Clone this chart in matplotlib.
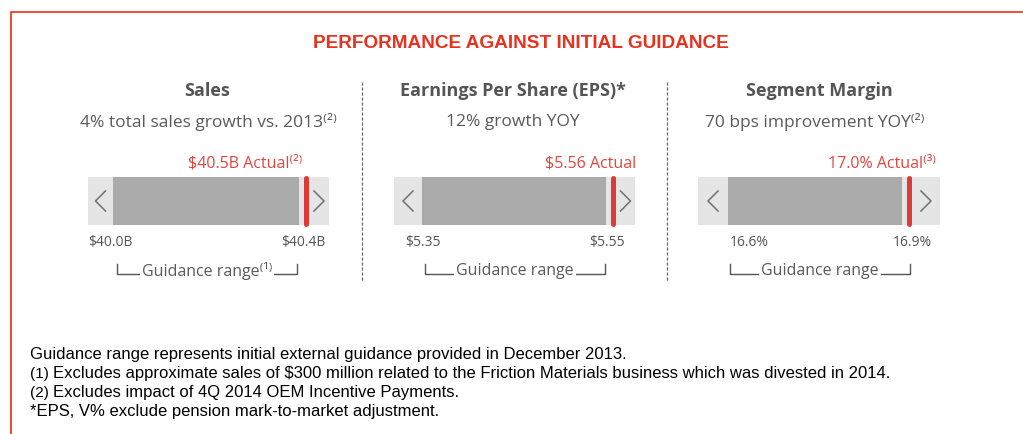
import matplotlib
matplotlib.use('Agg')
import matplotlib.pyplot as plt
import numpy as np

# 數據
panels = ['Sales', 'Earnings Per Share (EPS)*', 'Segment Margin']
subtitles = ['4% total sales growth vs. 2013⁽²⁾', '12% growth YOY', '70 bps improvement YOY⁽²⁾']
guide_low = [40.0, 5.35, 16.6]
guide_high = [40.4, 5.55, 16.9]
actual = [40.5, 5.56, 17.0]
low_labels = ['$40.0B', '$5.35', '16.6%']
high_labels = ['$40.4B', '$5.55', '16.9%']
actual_labels = ['$40.5B Actual⁽²⁾', '$5.56 Actual', '17.0% Actual⁽³⁾']
range_labels = ['Guidance range⁽¹⁾', 'Guidance range', 'Guidance range']

footnotes = [
    ('', 'Guidance range represents initial external guidance provided in December 2013.'),
    ('(1)', 'Excludes approximate sales of $300 million related to the Friction Materials business which was divested in 2014.'),
    ('(2)', 'Excludes impact of 4Q 2014 OEM Incentive Payments.'),
    ('', '*EPS, V% exclude pension mark-to-market adjustment.'),
]

W, H = 1023, 435
RED = '#EE3B22'
TXT = '#5a5a5a'
PANEL_FONT = ['Open Sans', 'DejaVu Sans']

# 版面（像素）
outer_x = [(88, 329), (394, 635), (698, 940)]
inner_x = [(113, 299), (422, 606), (728, 902)]
bar_y = (178, 226)
title_x = [207, 513, 819]
sub_x = [208, 513, 815]
act_x = [245, 591, 882]
low_x = [88, 405, 730]
high_x = [325, 625, 932]
bracket_x = [(117, 297), (425, 605), (730, 910)]
sep_x = [362, 667]

fig = plt.figure(figsize=(W / 100, H / 100), dpi=100)
fig.patch.set_facecolor('white')

# 像素座標的底層
bg = fig.add_axes([0, 0, 1, 1])
bg.set_xlim(0, W)
bg.set_ylim(H, 0)
bg.axis('off')
bg.set_zorder(10)
bg.patch.set_alpha(0)

# 紅色外框
bg.plot([10.5, 10.5, W], [H, 12.5, 12.5], color=RED, lw=1.3, solid_capstyle='butt')

bg.text(521, 43, 'PERFORMANCE AGAINST INITIAL GUIDANCE', ha='center', va='center',
        fontsize=13.7, fontweight='bold', color='#E8321E', family='Liberation Sans')

# 虛線分隔
for x in sep_x:
    bg.plot([x, x], [83, 282], color='#666666', lw=0.9, linestyle=(0, (2.5, 1.5)))

for i in range(len(panels)):
    lo, hi = guide_low[i], guide_high[i]
    # 正規化：指引區間 = 0..1，實際值標在區間外側
    act_n = min((actual[i] - lo) / (hi - lo), 1.04)
    ix0, ix1 = inner_x[i]
    ox0, ox1 = outer_x[i]
    span = ix1 - ix0

    ax = fig.add_axes([ox0 / W, 1 - bar_y[1] / H, (ox1 - ox0) / W, (bar_y[1] - bar_y[0]) / H])
    ax.set_facecolor('#E5E5E5')
    ax.set_xlim((ox0 - ix0) / span, (ox1 - ix0) / span)
    ax.set_ylim(-0.5, 0.5)
    ax.barh(0, 1.0, left=0.0, height=1.0, color='#AAAAAA')
    ax.plot([act_n, act_n], [-0.47, 0.47], color='#DC3A34', lw=3.6,
            solid_capstyle='round', clip_on=False)
    ax.set_xticks([])
    ax.set_yticks([])
    for s in ax.spines.values():
        s.set_visible(False)

    # 箭頭符號
    yc = (bar_y[0] + bar_y[1]) / 2
    lc = (ox0 + ix0) / 2
    rc = (ix1 + 10 + ox1) / 2
    bg.plot([lc + 5, lc - 5, lc + 5], [yc - 10, yc, yc + 10], color='#707070', lw=1.1)
    bg.plot([rc - 5, rc + 5, rc - 5], [yc - 10, yc, yc + 10], color='#707070', lw=1.1)

    # 文字
    bg.text(title_x[i], 91, panels[i], ha='center', va='center', fontsize=13,
            fontweight='bold', color='#555555', family=PANEL_FONT)
    bg.text(sub_x[i], 122, subtitles[i], ha='center', va='center', fontsize=12.5,
            color=TXT, family=PANEL_FONT)
    bg.text(act_x[i], 164, actual_labels[i], ha='center', va='center', fontsize=11.5,
            color='#E2463F', family=PANEL_FONT)
    bg.text(low_x[i], 243, low_labels[i], ha='left', va='center', fontsize=10,
            color='#555555', family=PANEL_FONT)
    bg.text(high_x[i], 243, high_labels[i], ha='right', va='center', fontsize=10,
            color='#555555', family=PANEL_FONT)

    # 指引區間括號
    bx0, bx1 = bracket_x[i]
    bg.plot([bx0, bx0, bx1, bx1], [265, 275, 275, 265], color='#555555', lw=1.0)
    bg.text((bx0 + bx1) / 2, 271, range_labels[i], ha='center', va='center', fontsize=11.5,
            color=TXT, family=PANEL_FONT,
            bbox=dict(boxstyle='square,pad=0.12', facecolor='white', edgecolor='none'))

# 註腳
foot_y = [355, 374, 393, 412]
for (mark, txt), y in zip(footnotes, foot_y):
    if mark:
        bg.text(30, y, mark, ha='left', va='center', fontsize=11, color='black',
                family='Liberation Sans')
        bg.text(53, y, txt, ha='left', va='center', fontsize=12, color='black',
                family='Liberation Sans')
    else:
        bg.text(30, y, txt, ha='left', va='center', fontsize=12, color='black',
                family='Liberation Sans')

plt.savefig('out.png', dpi=100, facecolor='white')
